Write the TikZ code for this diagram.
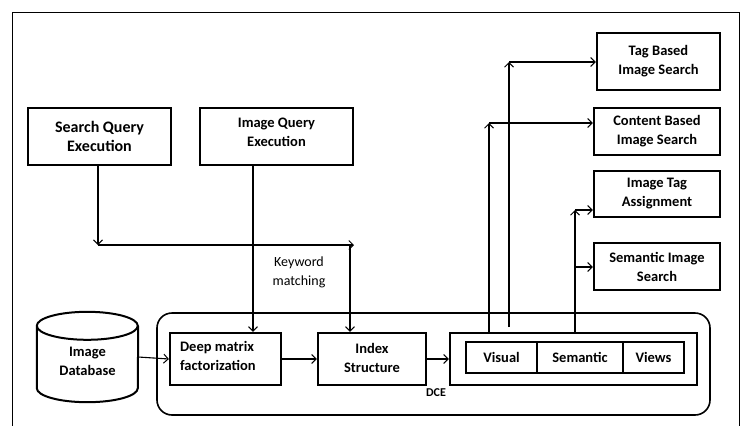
\documentclass[tikz,border=0pt]{standalone}
\usepackage{fontspec}
\setmainfont{Carlito}
\usetikzlibrary{arrows.meta}
\begin{document}
\begin{tikzpicture}[x=1pt,y=-1pt,
  box/.style={draw,line width=2.2pt,inner sep=0pt},
  thin box/.style={draw,line width=1.8pt,inner sep=0pt},
  conn/.style={line width=1.1pt},
  arr/.style={conn,-{Straight Barb[length=4.5pt,width=9pt,line width=1pt]}},
  lbl/.style={font=\bfseries\fontsize{14.5}{19}\selectfont,align=center,inner sep=0pt},
  plain/.style={font=\fontsize{14}{19}\selectfont,align=center,inner sep=0pt}]
\useasboundingbox (0,0) rectangle (745,426);
% outer frame
\draw[line width=0.9pt] (12,426) -- (12,12) -- (739,12) -- (739,426);

% top boxes
\node[box,minimum width=143pt,minimum height=57pt] (sq) at (99.5,136.5) {};
\node[lbl,font=\bfseries\fontsize{16}{19}\selectfont] at (sq.center) {Search Query\\Execution};
\node[box,minimum width=153pt,minimum height=57pt] (iq) at (276.5,136.5) {};
\node[lbl] at ([yshift=4pt]iq.center) {Image Query\\Execution};

% right boxes
\node[box,minimum width=123pt,minimum height=57pt] (tb) at (658.5,61.5) {};
\node[lbl] at (tb.center) {Tag Based\\Image Search};
\node[box,minimum width=126pt,minimum height=47pt] (cb) at (657,131.5) {};
\node[lbl] at (cb.center) {Content Based\\Image Search};
\node[box,minimum width=126pt,minimum height=46pt] (it) at (657,194) {};
\node[lbl] at (it.center) {Image Tag\\Assignment};
\node[box,minimum width=126pt,minimum height=47pt] (ss) at (657,266.5) {};
\node[lbl] at (ss.center) {Semantic Image\\Search};

% DCE container
\draw[line width=1.6pt,rounded corners=15pt] (157,313) rectangle (710,415);
\node[lbl,font=\bfseries\fontsize{12}{14}\selectfont] (dce) at (436,393) {DCE};

% database cylinder
\node[minimum width=101pt,minimum height=90pt,inner sep=0pt] (db) at (87.5,357) {};
\draw[line width=2pt] (db.north west) ++(0,14) coordinate (tl)
  (tl) arc[x radius=50.5, y radius=14, start angle=180, end angle=540]
  (tl) -- ([yshift=14pt]db.south west)
  arc[x radius=50.5, y radius=14, start angle=180, end angle=0]
  -- ([yshift=-14pt]db.north east);
\node[lbl] at ([yshift=-4pt]db.center) {Image\\Database};

% inner boxes
\node[box,minimum width=111pt,minimum height=52pt] (deep) at (225.5,359) {};
\node[lbl,align=left,anchor=west] at ([xshift=11pt,yshift=3pt]deep.west) {Deep matrix\\factorization};
\node[box,minimum width=108pt,minimum height=52pt] (idx) at (372,359) {};
\node[lbl] at ([yshift=1.5pt]idx.center) {Index\\Structure};
\node[box,minimum width=247pt,minimum height=52pt] (cont) at (573.5,359) {};
\node[thin box,minimum width=71pt,minimum height=31pt] (vis) at (501.5,357.5) {};
\node[thin box,minimum width=86pt,minimum height=31pt] (sem) at (580,357.5) {};
\node[thin box,minimum width=61pt,minimum height=31pt] (vie) at (653.5,357.5) {};
\node[lbl] at (vis.center) {Visual};
\node[lbl] at (sem.center) {Semantic};
\node[lbl] at (vie.center) {Views};

% keyword matching
\node[plain] (kw) at (299,272.5) {Keyword\\matching};

% helper coordinates
\coordinate (sqc) at (98,245);
\coordinate (kend) at (354,245);
\coordinate (kdown) at (350,245);
\coordinate (kx) at (253,0);
\coordinate (c1) at (489,123);
\coordinate (c2) at (509,62);
\coordinate (s2) at (509,327);
\coordinate (c3) at (575,210);
\coordinate (c4) at (575,267);

% connectors
\draw[arr] (sq.south -| sqc) -- (sqc);
\draw[arr] (sqc) -- (kend);
\draw[arr] (kdown) -- (idx.north -| kdown);
\draw[arr] (iq.south -| kx) -- (deep.north -| kx);
\draw[arr] (db.east) -- (deep.west);
\draw[arr] (deep.east) -- (idx.west);
\draw[arr] (idx.east) -- (cont.west);
\draw[arr] (cont.north -| c1) -- (c1);
\draw[arr] (c1) -- (cb.west |- c1);
\draw[arr] (s2) -- (c2);
\draw[arr] (c2) -- (tb.west |- c2);
\draw[arr] (cont.north -| c3) -- (c3);
\draw[arr] (c3) -- (it.west |- c3);
\draw[arr] (c4) -- (ss.west |- c4);
\end{tikzpicture}
\end{document}
